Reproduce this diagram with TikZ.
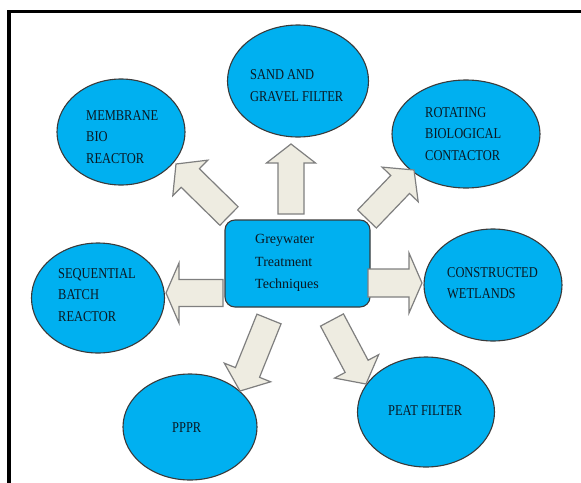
\documentclass[tikz,border=0pt]{standalone}
\usepackage{fontspec}
\setmainfont{Liberation Serif}
\newfontfamily\ellfont[FakeStretch=0.83]{Liberation Serif}
\usetikzlibrary{shapes.geometric,calc}
\definecolor{ellfill}{HTML}{00B0F0}
\definecolor{ellline}{HTML}{3A3A3A}
\definecolor{arrfill}{HTML}{EEECE1}
\definecolor{arrline}{HTML}{7F7F7F}
\definecolor{txtcol}{HTML}{0A1822}
\tikzset{
  tech/.style={ellipse, draw=ellline, fill=ellfill, line width=1.1pt, inner sep=0pt},
  techtxt/.style={anchor=west, text=txtcol, align=left, inner sep=0pt,
    font=\ellfont\fontsize{15}{21.5}\selectfont},
  centbox/.style={rectangle, rounded corners=10pt, draw=ellline, fill=ellfill, line width=1.1pt, inner sep=0pt},
  centtxt/.style={anchor=west, text=txtcol, align=left, inner sep=0pt, font=\fontsize{14}{22.5}\selectfont},
  blockarr/.style={draw=arrline, fill=arrfill, line width=1.2pt, line join=miter},
  frame/.style={line width=3.6pt, draw=black}
}
% block arrow: tail, tip, shaft half width, head half width, head length
\newcommand\blockarrow[5]{%
  \path ($(#2)!#5!(#1)$) coordinate (ba);
  \draw[blockarr] ($(#1)!#3!90:(#2)$) -- ($(ba)!#3!-90:(#1)$) -- ($(ba)!#4!-90:(#1)$)
    -- (#2) -- ($(ba)!#4!90:(#1)$) -- ($(ba)!#3!90:(#1)$) -- ($(#1)!#3!-90:(#2)$) -- cycle;
}
\begin{document}
\begin{tikzpicture}[x=1pt,y=-1pt]
\useasboundingbox (0,0) rectangle (581,482);
\draw[frame] (9,484) -- (9,11.5) -- (583,11.5);

% ellipses
\node[tech, minimum width=128pt, minimum height=106pt] (mbr) at (121,132) {};
\node[tech, minimum width=141pt, minimum height=112pt] (sand) at (298,81) {};
\node[tech, minimum width=148pt, minimum height=108pt] (rbc) at (466,134) {};
\node[tech, minimum width=133pt, minimum height=110pt] (sbr) at (98,298) {};
\node[tech, minimum width=138pt, minimum height=112pt] (cw) at (493,285) {};
\node[tech, minimum width=134pt, minimum height=106pt] (pppr) at (190,427) {};
\node[tech, minimum width=137pt, minimum height=110pt] (peat) at (426,412) {};

\node[techtxt] (mbrt) at (86,137) {MEMBRANE\\BIO\\REACTOR};
\node[techtxt] (sandt) at (250,85.5) {SAND AND\\GRAVEL FILTER};
\node[techtxt] (rbct) at (425,134) {ROTATING\\BIOLOGICAL\\CONTACTOR};
\node[techtxt] (sbrt) at (58,295) {SEQUENTIAL\\BATCH\\REACTOR};
\node[techtxt] (cwt) at (447,283) {CONSTRUCTED\\WETLANDS};
\node[techtxt] (pppt) at (172,428) {PPPR};
\node[techtxt] (peatt) at (388,411) {PEAT FILTER};

% centre
\node[centbox, minimum width=145pt, minimum height=87pt] (gw) at (297.5,263.5) {};
\node[centtxt] (gwt) at (255,263) {Greywater\\Treatment\\Techniques};

% arrow anchors
\coordinate (upT) at (291,214);   \coordinate (upH) at (291,144);
\coordinate (ulT) at (229,216);   \coordinate (ulH) at (176,164);
\coordinate (urT) at (367,219);   \coordinate (urH) at (414,170);
\coordinate (rT) at (368,283);    \coordinate (rH) at (422,283);
\coordinate (lT) at (223,293);    \coordinate (lH) at (166,293);
\coordinate (dlT) at (269,319);   \coordinate (dlH) at (240,391);
\coordinate (drT) at (332,320);   \coordinate (drH) at (366,384);

\blockarrow{upT}{upH}{13pt}{24.5pt}{19pt}
\blockarrow{ulT}{ulH}{13pt}{25pt}{20pt}
\blockarrow{urT}{urH}{13pt}{25pt}{20pt}
\blockarrow{rT}{rH}{14pt}{30pt}{13pt}
\blockarrow{lT}{lH}{13.5pt}{30pt}{13pt}
\blockarrow{dlT}{dlH}{13pt}{25pt}{20pt}
\blockarrow{drT}{drH}{13pt}{25pt}{20pt}
\end{tikzpicture}
\end{document}
